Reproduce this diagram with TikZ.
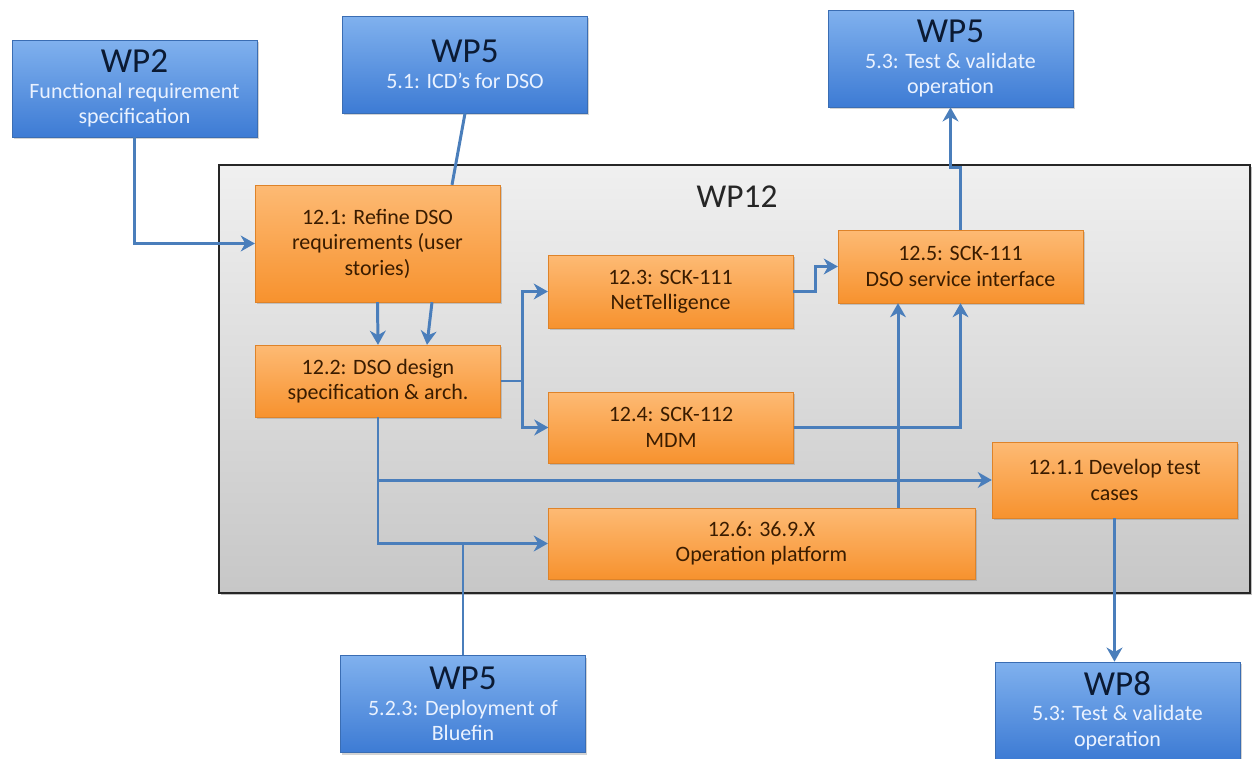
\documentclass[tikz,border=0pt]{standalone}
\usepackage{fontspec}
\setmainfont{Carlito}
\usetikzlibrary{arrows.meta,shadows,calc}
\definecolor{wpblue}{HTML}{3D7BD4}
\definecolor{wplight}{HTML}{80B1EE}
\definecolor{wpedge}{HTML}{3A6DB3}
\definecolor{wpdark}{HTML}{0B1A33}
\definecolor{wptext}{HTML}{EAF2FF}
\definecolor{tasklight}{HTML}{FDBA74}
\definecolor{taskdark}{HTML}{F7922E}
\definecolor{tasktext}{HTML}{3A1C00}
\definecolor{linkblue}{HTML}{4A7EBB}
\newcommand{\wptitle}[1]{{\fontsize{20}{22}\selectfont\color{wpdark}#1}}
\tikzset{
  wpbox/.style={rectangle, draw=wpedge, line width=0.4pt, top color=wplight, bottom color=wpblue,
    minimum width=4.9cm, minimum height=1.94cm, align=center, text=wptext,
    font=\fontsize{12.5}{14.5}\selectfont, inner sep=2pt,
    drop shadow={shadow xshift=1pt, shadow yshift=-1.2pt, opacity=0.35}},
  taskbox/.style={rectangle, draw=taskdark!90!black, line width=0.2pt, top color=tasklight, bottom color=taskdark,
    minimum width=4.9cm, align=center, text=tasktext,
    font=\fontsize{12.5}{14.5}\selectfont, inner sep=2pt,
    drop shadow={shadow xshift=1pt, shadow yshift=-1.2pt, opacity=0.35}},
  groupbox/.style={rectangle, draw=black!85, line width=1.2pt, top color=black!6, bottom color=black!22,
    minimum width=20.62cm, minimum height=8.56cm,
    drop shadow={shadow xshift=1pt, shadow yshift=-1.2pt, opacity=0.5}},
  arr/.style={draw=linkblue, line width=1.7pt, -{Stealth[length=8pt,width=9pt,inset=2.5pt]}},
  link/.style={draw=linkblue, line width=1.7pt},
}
\begin{document}
\begin{tikzpicture}[x=0.02cm, y=-0.02cm]
  \useasboundingbox (0,0) rectangle (1252,758);
  % work package 12 frame
  \node[groupbox] (wp12box) at (734.5,379) {};
  \node[font=\fontsize{19}{21}\selectfont, text=black!85] (wp12) at (737,197) {WP12};
  % outer work packages
  \node[wpbox] (wp2) at (134.5,88.5) {\wptitle{WP2}\\Functional requirement\\specification};
  \node[wpbox] (wp5a) at (465,64.5) {\wptitle{WP5}\\5.1: ICD’s for DSO};
  \node[wpbox] (wp5c) at (950.5,58.5) {\wptitle{WP5}\\5.3: Test \& validate\\operation};
  \node[wpbox] (wp5b) at (463,704) {\wptitle{WP5}\\5.2.3: Deployment of\\Bluefin};
  \node[wpbox] (wp8) at (1117.5,710.5) {\wptitle{WP8}\\5.3: Test \& validate\\operation};
  % tasks
  \node[taskbox, minimum height=2.34cm] (r121) at (377.5,243.5) {12.1: Refine DSO\\requirements (user\\stories)};
  \node[taskbox, minimum height=1.44cm] (r122) at (378,381) {12.2: DSO design\\specification \& arch.};
  \node[taskbox, minimum height=1.46cm] (r123) at (670.5,291.5) {12.3: SCK-111\\NetTelligence};
  \node[taskbox, minimum height=1.42cm] (r124) at (671,427.5) {12.4: SCK-112\\MDM};
  \node[taskbox, minimum height=1.46cm] (r125) at (960.5,266.5) {12.5: SCK-111\\DSO service interface};
  \node[taskbox, minimum height=1.42cm, minimum width=8.54cm] (r126) at (761.5,543.5) {12.6: 36.9.X\\Operation platform};
  \node[taskbox, minimum height=1.52cm] (r1211) at (1114.5,480) {12.1.1 Develop test\\cases};
  % connectors
  \draw[arr] (wp2.south) |- (r121.west);
  \draw[link] (wp5a.south) -- ($(r121.north)+(74.5,0)$);
  \draw[arr] (r121.south) -- (r122.north);
  \draw[arr] ($(r121.south)+(54.5,0)$) -- ($(r122.north)+(49,0)$);
  \draw[link] (r122.east) -- ++(22,0) coordinate (br);
  \draw[arr] (br) |- (r123.west);
  \draw[arr] (br) |- (r124.west);
  \draw[arr] (r123.east) -- ++(22,0) |- (r125.west);
  \draw[arr] (r125.north) -- ++(0,-62) -| (wp5c.south);
  \draw[arr] (r124.east) -| (r125.south);
  \coordinate (p) at (898,0);
  \draw[arr] (r126.north -| p) -- (r125.south -| p);
  \draw[arr] (r122.south) |- (r1211.west);
  \draw[arr] (r122.south) |- (r126.west);
  \draw[link] (wp5b.north) -- (wp5b.north |- r126.west);
  \draw[arr] (r1211.south) -- (r1211.south |- wp8.north);
\end{tikzpicture}
\end{document}
